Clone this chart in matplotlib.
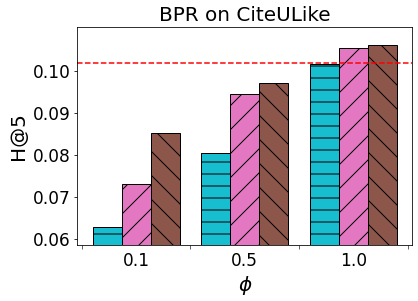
import matplotlib
matplotlib.use('Agg')
import matplotlib.pyplot as plt
import numpy as np

groups = ['0.1', '0.5', '1.0']
cyan_vals = [0.0629, 0.0806, 0.1017]
pink_vals = [0.0731, 0.0946, 0.1053]
brown_vals = [0.0853, 0.0972, 0.1060]
baseline = 0.1019

x = np.arange(len(groups))
w = 0.8 / 3

fig = plt.figure(figsize=(418 / 72, 301 / 72), dpi=72)
ax = fig.add_axes([77.3 / 418, 1 - 245.3 / 301, 335 / 418, 218 / 301])

ax.bar(x - w, cyan_vals, w, color='tab:cyan', edgecolor='black', hatch='-')
ax.bar(x, pink_vals, w, color='tab:pink', edgecolor='black', hatch='/')
ax.bar(x + w, brown_vals, w, color='tab:brown', edgecolor='black', hatch='\\')
ax.axhline(baseline, color='red', linestyle='--', linewidth=1.5)

ax.set_ylim(0.0586, 0.1103)
ax.set_xlim(-0.54, 2.54)
ax.set_xticks(x)
ax.set_xticklabels(groups)
ax.set_xticks([-0.5, 0.5, 1.5, 2.5], minor=True)
ax.tick_params(axis='x', which='major', length=0, pad=7)
ax.tick_params(axis='x', which='minor', length=3.5)
ax.tick_params(labelsize=17)
ax.set_yticks([0.06, 0.07, 0.08, 0.09, 0.10])

ax.set_title('BPR on CiteULike', fontsize=20)
ax.set_ylabel('H@5', fontsize=20)
ax.set_xlabel(r'$\phi$', fontsize=20)

fig.savefig('out.png', dpi=72)
